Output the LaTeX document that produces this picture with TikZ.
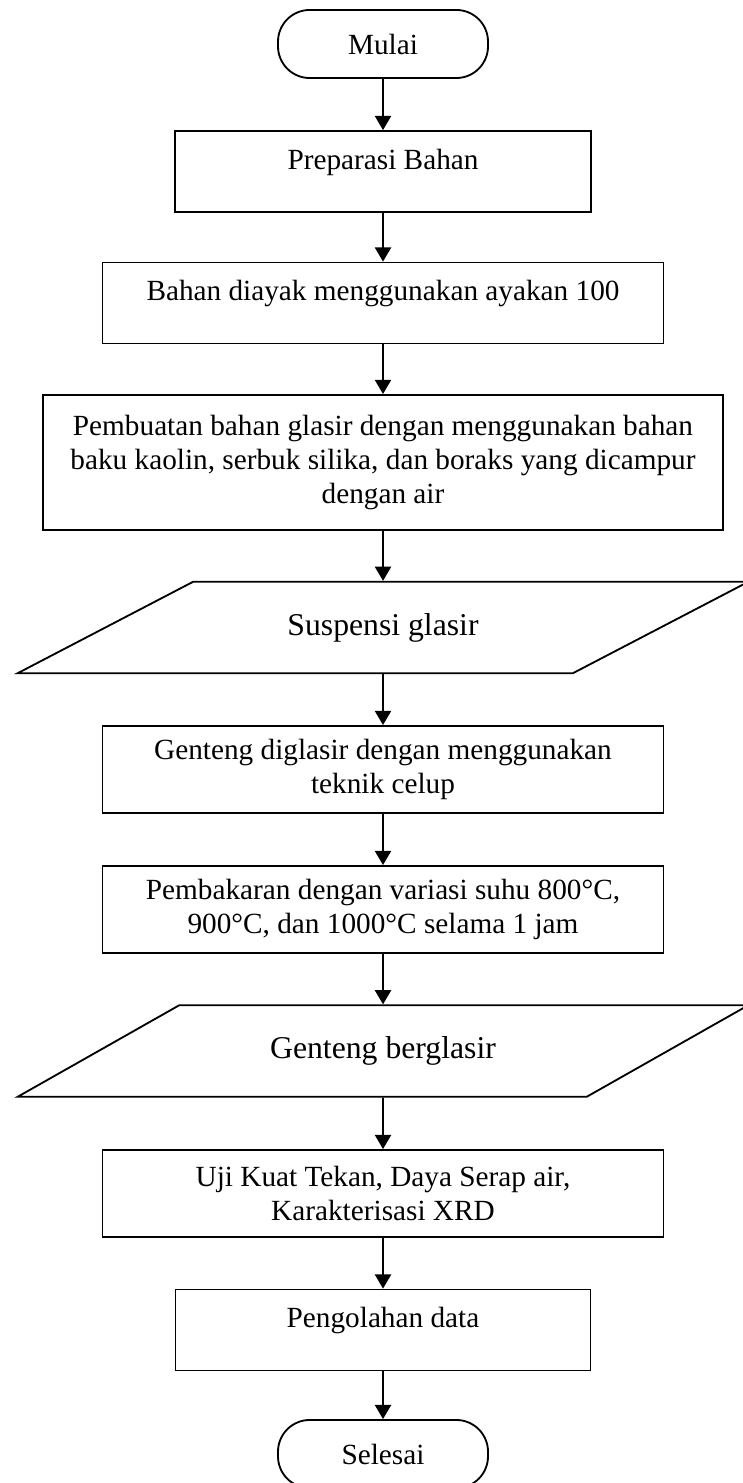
\documentclass[tikz,border=0pt]{standalone}
\usepackage{fontspec}
\setmainfont{Liberation Serif}
\usetikzlibrary{arrows.meta,shapes.geometric}

\begin{document}
\begin{tikzpicture}[x=0.41pt,y=-0.41pt,
	line width=0.75pt,
	font=\fontsize{12}{13.8}\selectfont,
	terminal/.style={draw, rounded corners=13pt, minimum width=86.1pt, minimum height=27.9pt},
	proses/.style={draw, align=center, minimum width=230pt, minimum height=35.7pt, inner ysep=0pt},
	atas/.style={minimum height=0pt, text height=15.6pt, text depth=17.6pt},
	data/.style={draw, trapezium, trapezium left angle=25.2, trapezium right angle=154.8,
		trapezium stretches=true, minimum width=300pt, minimum height=37.5pt,
		font=\fontsize{13}{15}\selectfont},
	panah/.style={-{Triangle[length=5.8pt,width=6.6pt]}}]
	\useasboundingbox (0,0) rectangle (742,1483);

	%start
	\node[terminal] (mulai) at (383,44) {Mulai};

	%preparation
	\node[proses, atas, minimum width=170.6pt] (preparasi) at (383,171.5) {Preparasi Bahan};
	\node[proses, atas] (ayak) at (383,303) {Bahan diayak menggunakan ayakan 100};
	\node[proses, minimum width=278.8pt, minimum height=55.4pt] (glasir) at (383,462.5)
		{Pembuatan bahan glasir dengan menggunakan bahan\\ baku kaolin, serbuk silika, dan boraks yang dicampur\\ dengan air};
	\node[data] (suspensi) at (383,627.5) {Suspensi glasir};

	%glazing and firing
	\node[proses] (celup) at (383,769.5) {Genteng diglasir dengan menggunakan\\ teknik celup};
	\node[proses] (bakar) at (383,909.5) {Pembakaran dengan variasi suhu 800°C,\\ 900°C, dan 1000°C selama 1 jam};
	\node[data] (berglasir) at (383,1051) {Genteng berglasir};

	%testing
	\node[proses] (uji) at (383,1193.5) {Uji Kuat Tekan, Daya Serap air,\\ Karakterisasi XRD};
	\node[proses, atas, minimum width=170.2pt] (olah) at (383,1330) {Pengolahan data};
	\node[terminal] (selesai) at (383,1454) {Selesai};

	%arrows
	\draw[panah] (mulai) -- (preparasi);
	\draw[panah] (preparasi) -- (ayak);
	\draw[panah] (ayak) -- (glasir);
	\draw[panah] (glasir) -- (suspensi);
	\draw[panah] (suspensi) -- (celup);
	\draw[panah] (celup) -- (bakar);
	\draw[panah] (bakar) -- (berglasir);
	\draw[panah] (berglasir) -- (uji);
	\draw[panah] (uji) -- (olah);
	\draw[panah] (olah) -- (selesai);
\end{tikzpicture}
\end{document}
